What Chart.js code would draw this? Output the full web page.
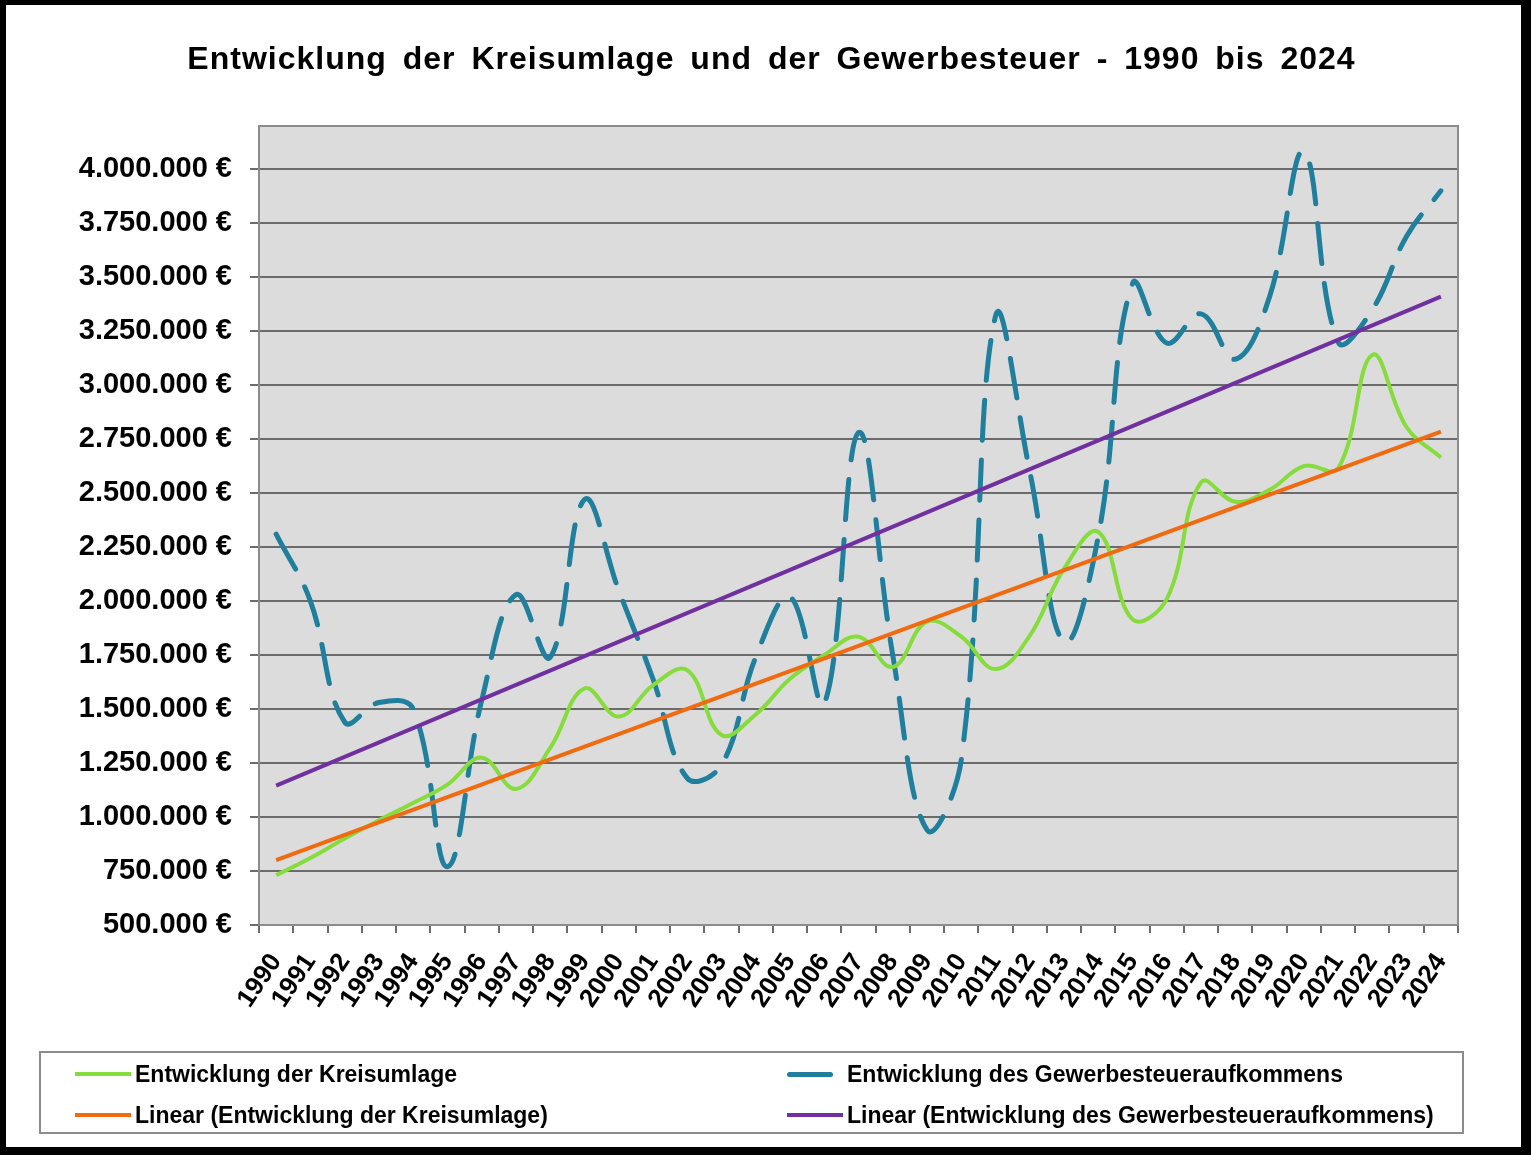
<!DOCTYPE html>
<html>
<head>
<meta charset="utf-8">
<script src="https://cdn.jsdelivr.net/npm/chart.js@4.4.1/dist/chart.umd.min.js"></script>
<style>
    body { margin: 0; background: #fff; }
    #wrap { position: relative; width: 1531px; height: 1155px; overflow: hidden; background: #fff; }
    #chart { position: absolute; left: 0; top: 0; }
    #frame { position: absolute; left: 0; top: 0; width: 1531px; height: 1155px; box-sizing: border-box;
             border-style: solid; border-color: #000; border-width: 5px 10px 8px 6px; pointer-events: none; }
    #titel { position: absolute; left: 12px; top: 40px; width: 1519px; text-align: center; line-height: 40px;
             font: bold 32px "Liberation Sans", Arial, sans-serif; letter-spacing: 1px; word-spacing: 6px; color: #000; }
    #legend { position: absolute; left: 39px; top: 1051px; width: 1425px; height: 83px; box-sizing: border-box;
              border: 2px solid #8c8c8c; font: bold 23px "Liberation Sans", Arial, sans-serif; color: #000; }
    .item { position: absolute; display: flex; align-items: center; height: 30px; white-space: nowrap; }
    .item .ln { display: inline-block; width: 56px; height: 4px; margin-right: 4px; }
</style>
</head>
<body>
<div id="wrap">
    <canvas id="chart" width="1531" height="1155"></canvas>
    <div id="titel">Entwicklung der Kreisumlage und der Gewerbesteuer - 1990 bis 2024</div>
    <div id="legend"></div>
    <div id="frame"></div>
</div>
<script>
var jahre = ['1990', '1991', '1992', '1993', '1994', '1995', '1996', '1997', '1998', '1999',
    '2000', '2001', '2002', '2003', '2004', '2005', '2006', '2007', '2008', '2009',
    '2010', '2011', '2012', '2013', '2014', '2015', '2016', '2017', '2018', '2019',
    '2020', '2021', '2022', '2023', '2024'];

// Entwicklung der Kreisumlage (EUR)
var kreisumlage = [730000, 810000, 900000, 985000, 1065000, 1150000, 1275000, 1130000, 1320000, 1595000,
    1465000, 1610000, 1680000, 1380000, 1475000, 1640000, 1750000, 1835000, 1695000, 1905000,
    1835000, 1685000, 1840000, 2150000, 2320000, 1915000, 2010000, 2550000, 2460000, 2515000,
    2625000, 2615000, 3140000, 2805000, 2665000];

// Entwicklung des Gewerbesteueraufkommens (EUR)
var gewerbesteuer = [2310000, 2000000, 1440000, 1530000, 1500000, 770000, 1540000, 2030000, 1740000, 2470000,
    2050000, 1640000, 1180000, 1240000, 1740000, 2020000, 1525000, 2780000, 1750000, 940000,
    1265000, 3320000, 2600000, 1810000, 2300000, 3470000, 3195000, 3330000, 3120000, 3410000,
    4080000, 3200000, 3350000, 3690000, 3900000];

// Trendlinien: Start- und Endwert (1990 / 2024)
var trendKreisumlage = [800000, 2785000];
var trendGewerbesteuer = [1145000, 3410000];

// y-Achse
var yMin = 500000, yMax = 4200000;
var yTickWerte = [500000, 750000, 1000000, 1250000, 1500000, 1750000, 2000000, 2250000,
    2500000, 2750000, 3000000, 3250000, 3500000, 3750000, 4000000];

var schrift = '"Liberation Sans", Arial, sans-serif';

function trendReihe(ends) {
    var arr = [];
    for (var i = 0; i < jahre.length; i++) arr.push(null);
    arr[0] = ends[0];
    arr[jahre.length - 1] = ends[1];
    return arr;
}

function euro(v) {
    return String(v).replace(/\B(?=(\d{3})+(?!\d))/g, '.') + ' €';
}

const plotHintergrund = {
    id: 'plotHintergrund',
    beforeDraw: function(chart) {
        var a = chart.chartArea, ctx = chart.ctx;
        ctx.save();
        ctx.fillStyle = '#dcdcdc';
        ctx.fillRect(a.left, a.top, a.right - a.left, a.bottom - a.top);
        ctx.restore();
    },
    beforeDatasetsDraw: function(chart) {
        var a = chart.chartArea, ctx = chart.ctx;
        ctx.save();
        ctx.strokeStyle = '#8c8c8c';
        ctx.lineWidth = 2;
        ctx.beginPath();
        ctx.moveTo(a.left, a.top);
        ctx.lineTo(a.right, a.top);
        ctx.lineTo(a.right, a.bottom);
        ctx.stroke();
        ctx.restore();
    }
};

const ctx = document.getElementById('chart').getContext('2d');
const myChart = new Chart(ctx, {
    type: 'line',
    data: {
        labels: jahre,
        datasets: [{
            label: 'Linear (Entwicklung der Kreisumlage)',
            data: trendReihe(trendKreisumlage),
            borderColor: '#f26a10',
            borderWidth: 4,
            spanGaps: true,
            legendCol: 0, legendRow: 1
        }, {
            label: 'Linear (Entwicklung des Gewerbesteueraufkommens)',
            data: trendReihe(trendGewerbesteuer),
            borderColor: '#7030a0',
            borderWidth: 4,
            spanGaps: true,
            legendCol: 1, legendRow: 1
        }, {
            label: 'Entwicklung der Kreisumlage',
            data: kreisumlage,
            borderColor: '#86dc3c',
            borderWidth: 4,
            tension: 0.4,
            legendCol: 0, legendRow: 0
        }, {
            label: 'Entwicklung des Gewerbesteueraufkommens',
            data: gewerbesteuer,
            borderColor: '#1f7f9c',
            borderWidth: 5,
            borderDash: [40, 20],
            borderCapStyle: 'round',
            tension: 0.4,
            legendCol: 1, legendRow: 0
        }]
    },
    options: {
        responsive: false,
        animation: false,
        elements: { point: { radius: 0 } },
        layout: { padding: { left: 10, right: 73, top: 126, bottom: 110 } },
        plugins: {
            legend: { display: false },
            tooltip: { enabled: false },
            title: { display: false }
        },
        scales: {
            x: {
                offset: true,
                afterFit: function(s) { s.height = 120; },
                grid: { offset: true, drawOnChartArea: false, color: '#6b6b6b', lineWidth: 2, tickLength: 8 },
                border: { color: '#8c8c8c', width: 2 },
                ticks: {
                    autoSkip: false, minRotation: 56, maxRotation: 56, padding: 15,
                    color: '#000', font: { family: schrift, size: 26, weight: 'bold' }
                }
            },
            y: {
                min: yMin,
                max: yMax,
                bounds: 'data',
                afterFit: function(s) { s.width = 249; },
                afterBuildTicks: function(s) {
                    s.ticks = yTickWerte.map(function(v) { return { value: v }; });
                },
                grid: { color: '#6b6b6b', lineWidth: 2, tickLength: 9 },
                border: { color: '#8c8c8c', width: 2 },
                ticks: {
                    padding: 18,
                    color: '#000',
                    font: { family: schrift, size: 29, weight: 'bold' },
                    callback: function(v) { return euro(v); }
                }
            }
        }
    },
    plugins: [plotHintergrund]
});

// Legende als HTML, zwei Spalten
var legend = document.getElementById('legend');
var colX = [34, 746];
var rowY = [6, 47];
myChart.data.datasets.forEach(function(ds) {
    var d = document.createElement('div');
    d.className = 'item';
    d.style.left = colX[ds.legendCol] + 'px';
    d.style.top = rowY[ds.legendRow] + 'px';
    var l = document.createElement('span');
    l.className = 'ln';
    l.style.background = ds.borderColor;
    if (ds.borderDash) { l.style.width = '46px'; l.style.marginRight = '14px'; l.style.height = '5px'; l.style.borderRadius = '3px'; }
    d.appendChild(l);
    d.appendChild(document.createTextNode(ds.label));
    legend.appendChild(d);
});
</script>
</body>
</html>
